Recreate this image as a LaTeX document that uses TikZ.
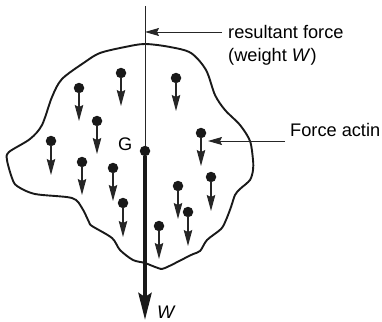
\documentclass[tikz,border=0pt]{standalone}
\usepackage{fontspec}
\setmainfont{Liberation Sans}
\usetikzlibrary{arrows.meta}
\tikzset{
    dot/.style={circle,fill=black!90,inner sep=0pt,minimum size=10.5pt},
    force/.style={draw=black!85,line width=1.1pt,-{Stealth[length=16pt,width=8.5pt,inset=2pt]},shorten <=-1pt},
    leader/.style={draw=black!85,line width=0.9pt,-{Stealth[length=14pt,width=8pt,inset=2pt]}},
    lbl/.style={inner sep=0pt,anchor=base west,font=\fontsize{18.2}{22}\selectfont}
}
\begin{document}
\begin{tikzpicture}[x=1pt,y=-1pt]
    \useasboundingbox (0,0) rectangle (382,321);

    % outline of the body
    \draw[line width=1.9pt,black!90] plot[smooth cycle,tension=0.5] coordinates {
        (145,44) (125,47) (100,53) (85,62) (62,79) (52,97) (42,125) (30,139)
        (9,152) (7,160) (12,178) (17,186) (35,194) (72,198) (82,208) (89,222)
        (92,226) (112,238) (120,250) (133,260) (145,263) (158,268) (165,268)
        (191,255) (200,251) (207,240) (221,229) (226,220) (231,207) (235,195)
        (240,189) (250,180) (253,170) (253,160) (250,141) (240,125) (225,110)
        (215,95) (206,70) (191,53) (170,47)};

    % particles
    \node[dot] (p1) at (79,88) {};
    \node[dot] (p2) at (121,73) {};
    \node[dot] (p3) at (176,78) {};
    \node[dot] (p4) at (97,121) {};
    \node[dot] (p5) at (51,141) {};
    \node[dot] (p6) at (82,162) {};
    \node[dot] (p7) at (113,168) {};
    \node[dot] (p8) at (123,203) {};
    \node[dot] (p9) at (159,226) {};
    \node[dot] (p10) at (178,186) {};
    \node[dot] (p11) at (188,212) {};
    \node[dot] (p12) at (211,177) {};
    \node[dot] (p13) at (201,133) {};

    % ends of the small forces
    \coordinate (e1) at (79,121);
    \coordinate (e2) at (121,106);
    \coordinate (e3) at (176,111);
    \coordinate (e4) at (97,154);
    \coordinate (e5) at (51,175);
    \coordinate (e6) at (82,195);
    \coordinate (e7) at (113,201);
    \coordinate (e8) at (123,237);
    \coordinate (e9) at (159,259);
    \coordinate (e10) at (178,219);
    \coordinate (e11) at (188,246);
    \coordinate (e12) at (211,211);
    \coordinate (e13) at (201,166);

    \draw[force] (p1) -- (e1);
    \draw[force] (p2) -- (e2);
    \draw[force] (p3) -- (e3);
    \draw[force] (p4) -- (e4);
    \draw[force] (p5) -- (e5);
    \draw[force] (p6) -- (e6);
    \draw[force] (p7) -- (e7);
    \draw[force] (p8) -- (e8);
    \draw[force] (p9) -- (e9);
    \draw[force] (p10) -- (e10);
    \draw[force] (p11) -- (e11);
    \draw[force] (p12) -- (e12);
    \draw[force] (p13) -- (e13);

    % line of action and resultant
    \node[dot] (cg) at (145,151) {};
    \coordinate (top) at (145,6);
    \coordinate (tip) at (145,320);
    \draw[line width=1pt,black!85] (top) -- (cg);
    \draw[line width=4pt,black!90,-{Stealth[length=27pt,width=13pt,inset=4pt]}] (cg) -- (tip);

    % labels
    \node[lbl] (res) at (228,38) {resultant force};
    \node[lbl] (wei) at (228,61) {(weight \textit{W})};
    \node[lbl] (act) at (290,136) {Force actin};
    \node[lbl] (g) at (118,150) {G};
    \node[lbl] (w) at (157,318) {\textit{W}};

    % leaders
    \coordinate (resfoot) at (222,32);
    \coordinate (resend) at (145,32);
    \coordinate (actfoot) at (285,141);
    \coordinate (actend) at (208,141);
    \draw[leader] (resfoot) -- (resend);
    \draw[leader] (actfoot) -- (actend);
\end{tikzpicture}
\end{document}
